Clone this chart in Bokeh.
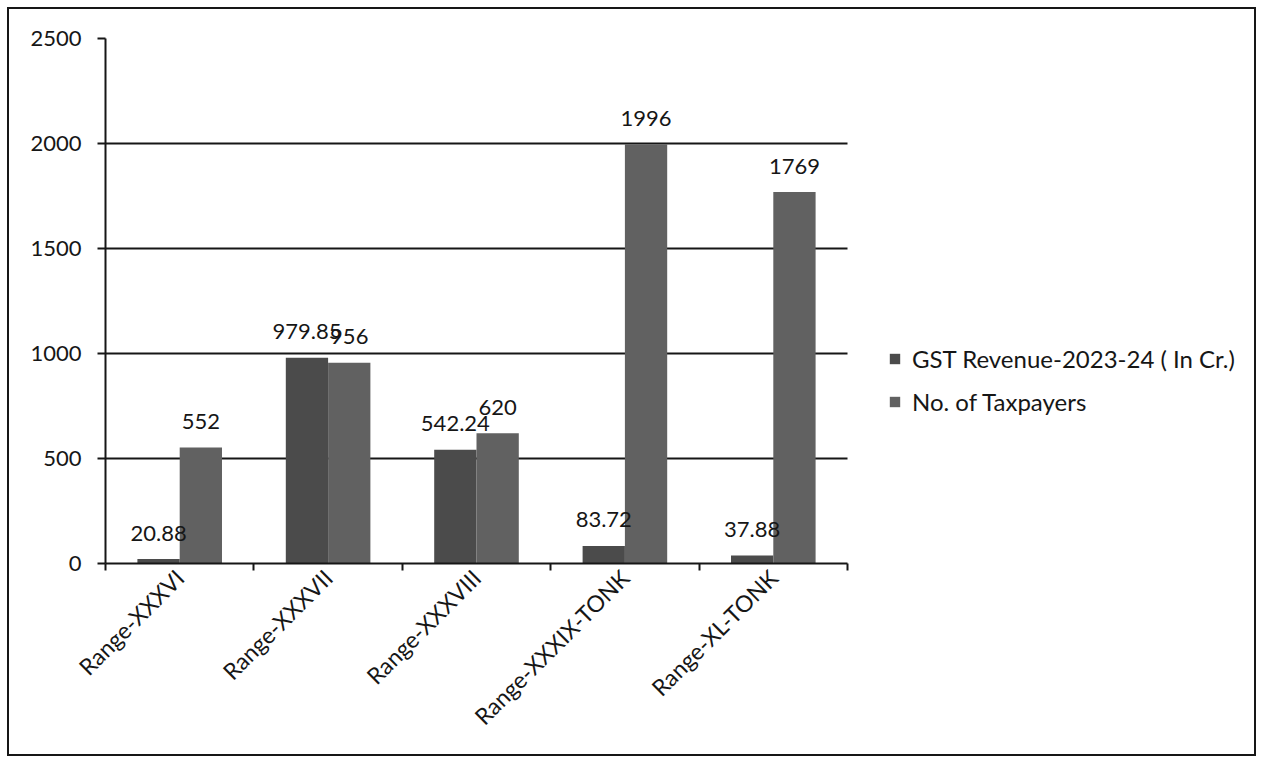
from math import pi

import numpy as np
from bokeh.core.properties import value
from bokeh.embed import file_html
from bokeh.models import ColumnDataSource, FixedTicker, Grid, Legend, LegendItem, Range1d
from bokeh.plotting import figure
from bokeh.resources import INLINE

# GST revenue and taxpayer count per range
ranges = ["Range-XXXVI", "Range-XXXVII", "Range-XXXVIII", "Range-XXXIX-TONK", "Range-XL-TONK"]
gst_revenue = [20.88, 979.85, 542.24, 83.72, 37.88]
taxpayers = [552, 956, 620, 1996, 1769]
y_ticks = [0, 500, 1000, 1500, 2000, 2500]

FONT = "Lato"
FS = "22px"
INK = "#161616"
GST_COLOR = "#4b4b4b"
TAX_COLOR = "#616161"
BAR_W = 0.285
W, H = 1249, 749
LEFT, TOP = 96, 29
CAT_W = 148.4                     # pixels per category
PLOT_H = 525
n = len(ranges)

centers = np.arange(n) + 0.5
src = ColumnDataSource(dict(
    gst_x=centers - BAR_W / 2,
    tax_x=centers + BAR_W / 2,
    gst=gst_revenue,
    tax=taxpayers,
    gst_label=[f"{v:g}" for v in gst_revenue],
    tax_label=[str(v) for v in taxpayers],
))

# the frame runs to the right edge so the legend can live inside it;
# axis and gridlines are bounded to the category span
x_end = (W - LEFT) / CAT_W
p = figure(width=W, height=H,
           x_range=Range1d(0, x_end), y_range=Range1d(0, 2500),
           output_backend="svg", toolbar_location=None,
           min_border_left=LEFT, min_border_top=TOP, min_border_right=0,
           min_border_bottom=H - TOP - PLOT_H)
p.outline_line_color = None
p.styles = {"border": f"2px solid {INK}", "margin": "7px 0 0 7px"}

# horizontal gridlines over the categories only
p.xgrid.grid_line_color = None
p.ygrid.ticker = FixedTicker(ticks=y_ticks)
p.ygrid.grid_line_width = 2
if "cross_bounds" in Grid.properties():
    p.ygrid.cross_bounds = (0, n)
    p.ygrid.grid_line_color = INK
else:
    p.ygrid.grid_line_color = None
    p.segment(x0=0, x1=n, y0=y_ticks, y1=y_ticks, line_color=INK, line_width=2)

# value axis
p.yaxis.ticker = FixedTicker(ticks=y_ticks)
p.yaxis.axis_line_color = INK
p.yaxis.axis_line_width = 2
p.yaxis.major_tick_line_color = INK
p.yaxis.major_tick_line_width = 2
p.yaxis.major_tick_in = 0
p.yaxis.major_tick_out = 8
p.yaxis.minor_tick_line_color = None
p.yaxis.major_label_standoff = 16
p.yaxis.major_label_text_font = FONT
p.yaxis.major_label_text_font_size = FS
p.yaxis.major_label_text_color = INK

# category axis: labels at the centres, ticks on the boundaries
p.xaxis.bounds = (0, n)
p.xaxis.ticker = FixedTicker(ticks=list(centers), minor_ticks=list(range(n + 1)))
p.xaxis.major_label_overrides = {float(c): r for c, r in zip(centers, ranges)}
p.xaxis.major_label_orientation = pi / 4
p.xaxis.axis_line_color = INK
p.xaxis.axis_line_width = 2
p.xaxis.major_tick_line_color = None
p.xaxis.minor_tick_line_color = INK
p.xaxis.minor_tick_line_width = 2
p.xaxis.minor_tick_in = 0
p.xaxis.minor_tick_out = 7
p.xaxis.major_label_standoff = 3
p.xaxis.major_label_text_font = FONT
p.xaxis.major_label_text_font_size = "23px"
p.xaxis.major_label_text_color = INK

r_gst = p.vbar(x="gst_x", top="gst", bottom=0, width=BAR_W, source=src,
               fill_color=GST_COLOR, line_color=None)
r_tax = p.vbar(x="tax_x", top="tax", bottom=0, width=BAR_W, source=src,
               fill_color=TAX_COLOR, line_color=None)

for xcol, ycol, tcol in (("gst_x", "gst", "gst_label"), ("tax_x", "tax", "tax_label")):
    p.text(x=xcol, y=ycol, text=tcol, source=src, text_align="center",
           text_baseline="alphabetic", y_offset=-26,
           text_font=value(FONT), text_font_size=FS, text_color=INK)

legend = Legend(items=[LegendItem(label="GST Revenue-2023-24 ( In Cr.)", renderers=[r_gst]),
                       LegendItem(label="No. of Taxpayers", renderers=[r_tax])],
                location=(round(n * CAT_W) + 41, 147), padding=0, margin=0, spacing=14,
                glyph_width=13, glyph_height=13, label_standoff=11, label_height=24,
                label_text_font=FONT, label_text_font_size="24px", label_text_color=INK,
                border_line_color=None, background_fill_alpha=0)
p.add_layout(legend, "center")

open("out.html", "w").write(file_html(p, INLINE))
